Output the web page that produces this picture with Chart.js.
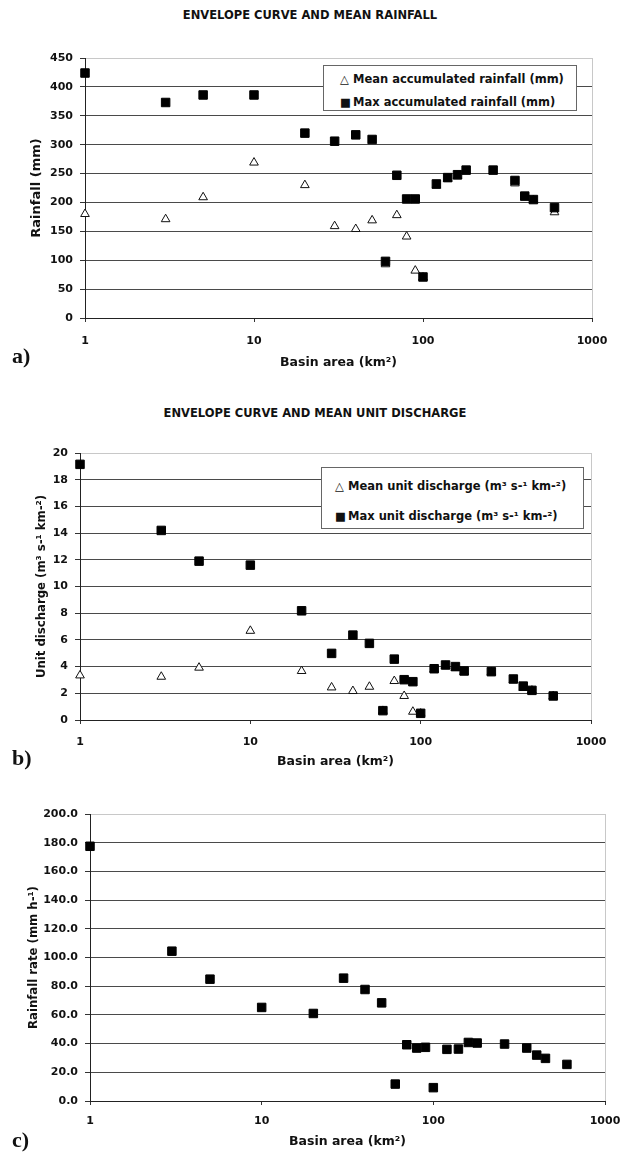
<!DOCTYPE html>
<html>
<head>
<meta charset="utf-8">
<script src="https://cdn.jsdelivr.net/npm/chart.js@4.4.1/dist/chart.umd.min.js"></script>
<style>
  body { margin: 0; background: #fff; }
  #page { position: relative; width: 620px; height: 1152px; overflow: hidden; font-family: "DejaVu Sans", sans-serif; color: #111; }
  canvas { position: absolute; left: 0; }
  .title { position: absolute; left: 0; width: 620px; text-align: center; font-weight: bold; font-size: 11.5px; line-height: 14px; }
  .panel { position: absolute; left: 12px; font-family: "Liberation Serif", serif; font-weight: bold; font-size: 22px; line-height: 22px; }
  .legend { position: absolute; background: #fff; border: 1px solid #666; box-sizing: border-box; font-weight: bold; font-size: 11.5px; }
  .legend div { position: absolute; white-space: nowrap; height: 14px; line-height: 14px; }
  .legend span { display: inline-block; width: 13px; }
</style>
</head>
<body>
<div id="page">
  <div class="title" style="top:8px">ENVELOPE CURVE AND MEAN RAINFALL</div>
  <canvas id="chartA" width="620" height="380" style="top:0"></canvas>
  <div class="legend" id="legendA" style="left:323px; top:65px; width:254px; height:46px"></div>
  <div class="panel" style="top:345px">a)</div>

  <div class="title" style="top:406px; left:5px">ENVELOPE CURVE AND MEAN UNIT DISCHARGE</div>
  <canvas id="chartB" width="620" height="395" style="top:380px"></canvas>
  <div class="legend" id="legendB" style="left:321px; top:467px; width:263px; height:62px"></div>
  <div class="panel" style="top:747px">b)</div>

  <canvas id="chartC" width="620" height="377" style="top:775px"></canvas>
  <div class="panel" style="top:1129px">c)</div>
</div>

<script>
// Données (surface du bassin en km²)
const basinArea = [1, 3, 5, 10, 20, 30, 40, 50, 60, 70, 80, 90, 100, 120, 140, 160, 180, 260, 350, 400, 450, 600];

// a) pluie cumulée (mm)
const meanRainfall = [180, 171, 209, 269, 230, 159, 154, 169, 93, 178, 141, 82, 70, 229, 241, 245, 254, 254, 233, 209, 204, 183];
const maxRainfall = [424, 373, 386, 386, 320, 306, 317, 309, 98, 247, 206, 206, 71, 232, 243, 248, 256, 256, 238, 211, 205, 191];

// b) débit spécifique (m³ s-¹ km-²)
const meanDischarge = [3.34, 3.24, 3.92, 6.68, 3.67, 2.44, 2.17, 2.49, 0.68, 2.92, 1.8, 0.62, 0.48, 3.8, 4.05, 3.9, 3.6, 3.58, 3.0, 2.4, 2.2, 1.78];
const maxDischarge = [19.15, 14.2, 11.9, 11.6, 8.18, 4.99, 6.36, 5.74, 0.7, 4.56, 3.02, 2.87, 0.5, 3.84, 4.12, 4.0, 3.67, 3.62, 3.07, 2.54, 2.22, 1.8];

// c) intensité de pluie (mm h-¹)
const rainfallRate = [177.5, 104.4, 84.9, 65.2, 61.0, 85.6, 77.7, 68.4, 11.8, 39.2, 36.9, 37.4, 9.3, 36.0, 36.2, 40.8, 40.4, 39.7, 36.9, 32.0, 29.7, 25.5];

const xTicks = [1, 10, 100, 1000];

Chart.defaults.font.family = "'DejaVu Sans', sans-serif";
Chart.defaults.font.weight = "bold";
Chart.defaults.color = "#111";

function points(values) {
  return basinArea.map((a, i) => ({ x: a, y: values[i] }));
}

function meanSeries(label, values) {
  return {
    label: label,
    data: points(values),
    pointStyle: "triangle",
    pointRadius: 5,
    borderWidth: 1,
    borderColor: "#111",
    backgroundColor: "#fff",
    clip: false,
    order: 2,
  };
}

function maxSeries(label, values) {
  return {
    label: label,
    data: points(values),
    pointStyle: "rect",
    pointRadius: 6,
    borderWidth: 1,
    borderColor: "#000",
    backgroundColor: "#000",
    clip: false,
    order: 1,
  };
}

// tailles fixes pour que la zone de tracé tombe au bon endroit
function fixSize(s, prop, size) {
  s[prop] = size;
  s.paddingTop = 0;
  s.paddingBottom = 0;
  s.paddingLeft = 0;
  s.paddingRight = 0;
}

function makeChart(id, cfg) {
  return new Chart(document.getElementById(id), {
    type: "scatter",
    data: { datasets: cfg.datasets },
    options: {
      responsive: false,
      animation: false,
      devicePixelRatio: 1,
      events: [],
      layout: { padding: cfg.padding },
      plugins: {
        legend: { display: false },
        tooltip: { enabled: false },
      },
      scales: {
        x: {
          type: "logarithmic",
          min: 1,
          max: 1000,
          afterBuildTicks: (s) => {
            s.ticks = xTicks.map((v) => ({ value: v }));
          },
          afterFit: (s) => fixSize(s, "height", cfg.xHeight),
          grid: {
            color: (c) => (c.tick && c.tick.value === 1000 ? "#c8c8c8" : "rgba(0,0,0,0)"),
            tickColor: "#333",
            tickLength: 4,
          },
          border: { color: "#222" },
          ticks: {
            callback: (v) => String(v),
            padding: cfg.xTickPad,
            font: { size: 11 },
            maxRotation: 0,
            autoSkip: false,
          },
          title: {
            display: true,
            text: "Basin area (km²)",
            font: { size: 12.5 },
            padding: { top: 0, bottom: cfg.xTitlePad },
          },
        },
        y: {
          min: 0,
          max: cfg.yMax,
          afterFit: (s) => fixSize(s, "width", cfg.yWidth),
          grid: {
            color: (c) => (c.tick && c.tick.value === cfg.yMax ? "#c8c8c8" : "#4a4a4a"),
            tickColor: "#333",
            tickLength: 5,
          },
          border: { color: "#222" },
          ticks: {
            stepSize: cfg.yStep,
            padding: 7,
            font: { size: 11 },
            callback: cfg.yFormat || ((v) => String(v)),
          },
          title: {
            display: true,
            text: cfg.yTitle,
            font: { size: cfg.yTitleSize || 11.7 },
            padding: { top: cfg.yTitlePad, bottom: 0 },
          },
        },
      },
    },
  });
}

// légende encadrée dans la zone de tracé
function buildLegend(chart, boxId, rows) {
  const box = document.getElementById(boxId);
  const datasets = [...chart.data.datasets].sort((a, b) => b.order - a.order);
  datasets.forEach((ds, i) => {
    const row = document.createElement("div");
    row.style.left = rows.left + "px";
    row.style.top = rows.tops[i] + "px";
    const sym = document.createElement("span");
    sym.textContent = ds.pointStyle === "triangle" ? "△" : "■";
    row.appendChild(sym);
    row.appendChild(document.createTextNode(ds.label));
    box.appendChild(row);
  });
}

const chartA = makeChart("chartA", {
  datasets: [
    meanSeries("Mean accumulated rainfall (mm)", meanRainfall),
    maxSeries("Max accumulated rainfall (mm)", maxRainfall),
  ],
  padding: { top: 58, right: 28, left: 0, bottom: 0 },
  xHeight: 62,
  yWidth: 85,
  xTickPad: 12.4,
  xTitlePad: 9.5,
  yMax: 450,
  yStep: 50,
  yTitle: "Rainfall (mm)",
  yTitleSize: 13,
  yTitlePad: 29,
});
buildLegend(chartA, "legendA", { left: 16, tops: [6, 29] });

const chartB = makeChart("chartB", {
  datasets: [
    meanSeries("Mean unit discharge (m³ s-¹ km-²)", meanDischarge),
    maxSeries("Max unit discharge (m³ s-¹ km-²)", maxDischarge),
  ],
  padding: { top: 73, right: 29, left: 0, bottom: 0 },
  xHeight: 55,
  yWidth: 80,
  xTickPad: 11.4,
  xTitlePad: 5.5,
  yMax: 20,
  yStep: 2,
  yTitle: "Unit discharge (m³ s-¹ km-²)",
  yTitlePad: 35,
});
buildLegend(chartB, "legendB", { left: 13, tops: [11, 41] });

makeChart("chartC", {
  datasets: [maxSeries("Rainfall rate (mm h-¹)", rainfallRate)],
  padding: { top: 39, right: 15, left: 0, bottom: 0 },
  xHeight: 51,
  yWidth: 90,
  xTickPad: 9.4,
  xTitlePad: 2.5,
  yMax: 200,
  yStep: 20,
  yTitle: "Rainfall rate (mm h-¹)",
  yTitlePad: 27,
  yFormat: (v) => v.toFixed(1),
});
</script>
</body>
</html>
